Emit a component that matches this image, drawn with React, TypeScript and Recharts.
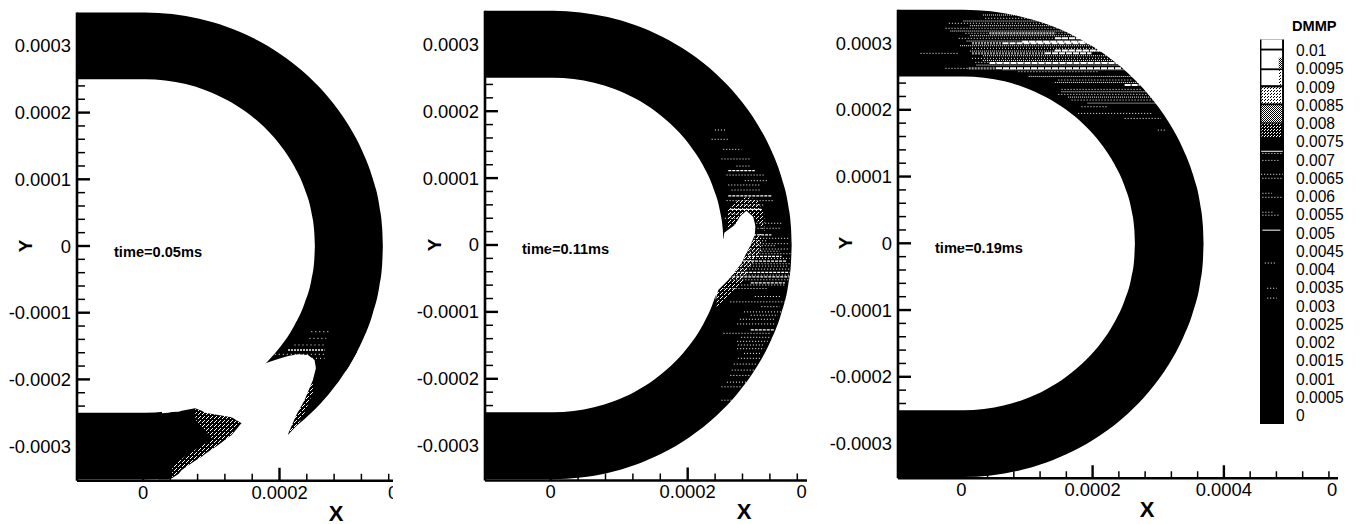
import { Area, ComposedChart, Line, XAxis, YAxis } from 'recharts';

const FONT = '"Liberation Sans", Arial, sans-serif';

// all x / y values are in units of 1e-4, the tick labels carry the real numbers
const yMajorTicks = [-3, -2, -1, 0, 1, 2, 3];
const yMajorLabels = ['-0.0003', '-0.0002', '-0.0001', '0', '0.0001', '0.0002', '0.0003'];
const yMinorTicks = [-3.4, -3.2, -2.8, -2.6, -2.4, -2.2, -1.8, -1.6, -1.4, -1.2, -0.8, -0.6, -0.4, -0.2, 0.2, 0.4, 0.6, 0.8, 1.2, 1.4, 1.6, 1.8, 2.2, 2.4];
const xMajorTicks = [0, 2, 4, 6];
const xMajorLabels = ['0', '0.0002', '0.0004', '0.0006'];
const xMinorTicks = [0.4, 0.8, 1.2, 1.6, 2.4, 2.8, 3.2, 3.6, 4.4, 4.8, 5.2, 5.6];

// droplet edge, upper half (the lower half mirrors it)
const outerX = [-1, 0, 0.4, 0.8, 1.2, 1.6, 2.0, 2.4, 2.7, 3.0, 3.2, 3.35, 3.45, 3.49, 3.5];
const outerY = [3.5, 3.5, 3.477, 3.407, 3.288, 3.113, 2.872, 2.548, 2.227, 1.803, 1.418, 1.014, 0.59, 0.265, 0];
const innerX = [-1, 0, 0.3, 0.6, 0.9, 1.2, 1.5, 1.8, 2.0, 2.2, 2.35, 2.45, 2.49, 2.5];
const innerY = [2.5, 2.5, 2.482, 2.427, 2.332, 2.193, 2.0, 1.735, 1.5, 1.187, 0.853, 0.497, 0.223, 0];
const outerX3 = [-1, 0, 0.42, 0.84, 1.26, 1.68, 2.1, 2.52, 2.835, 3.15, 3.36, 3.518, 3.623, 3.665, 3.675];
const innerX3 = [-1, 0, 0.315, 0.63, 0.945, 1.26, 1.575, 1.89, 2.1, 2.31, 2.468, 2.573, 2.615, 2.625];

// time=0.05ms: gap, plume and tail
const gapX = [0.25, 1.4, 1.836, 1.959, 2.105, 2.252, 2.398, 2.495, 2.52, 3.7];
const gapHi = [-2.4, -1.9, -1.734, -1.694, -1.649, -1.624, -1.634, -1.709, -1.859, -1.9];
const gapLo = [-3.5, -3.5, -3.5, -3.5, -3.5, -3.5, -3.5, -3.5, -3.5, -3.5];
const plumeX = [0.2, 0.347, 0.396, 0.493, 0.542, 0.737, 0.835, 0.884, 1.079, 1.275, 1.421];
const plumeHi = [-2.51, -2.5, -2.49, -2.484, -2.47, -2.434, -2.47, -2.499, -2.534, -2.568, -2.659];
const plumeLo = [-3.5, -3.5, -3.483, -3.42, -3.358, -3.22, -3.159, -3.12, -2.984, -2.834, -2.659];
const tailX = [2.105, 2.227, 2.349, 2.471, 2.52, 2.59, 2.7, 2.85, 3.0, 3.12];
const tailHi = [-2.82, -2.534, -2.309, -2.009, -1.81, -1.7, -1.6, -1.6, -1.6, -1.586];
const tailLo = [-2.83, -2.7, -2.595, -2.479, -2.429, -2.354, -2.227, -2.032, -1.803, -1.586];
const plumeSpeckX = [0.74, 1.0, 1.25, 1.42];
const plumeSpeckHi = [-2.44, -2.52, -2.56, -2.66];
const plumeSpeckLo = [-2.6, -2.9, -2.82, -2.66];
const plumeEdgeX = [0.4, 0.6, 0.85, 1.1, 1.3];
const plumeEdgeHi = [-3.3, -3.15, -2.98, -2.85, -2.72];
const plumeEdgeLo = [-3.48, -3.33, -3.15, -2.97, -2.82];
const tailSpeckX = [2.105, 2.227, 2.349, 2.471];
const tailSpeckHi = [-2.82, -2.534, -2.309, -2.009];
const tailSpeckLo = [-2.83, -2.72, -2.5, -2.2];
const t1StreakY = [-1.285, -1.385, -1.484, -1.624, -1.684];
const t1StreakX0 = [2.447, 2.42, 2.2, 1.91, 2.398];
const t1StreakX1 = [2.715, 2.666, 2.642, 2.642, 2.642];
const t1BrightY = [-1.559];
const t1BrightX0 = [2.105];
const t1BrightX1 = [2.642];

// time=0.11ms: bite in the inner edge
const biteX = [2.384, 2.423, 2.5, 2.511, 2.569, 2.666, 2.739, 2.764, 2.836, 2.885, 2.934, 2.958, 2.968];
const biteHi = [0, 0, 0.1, 0.184, 0.227, 0.299, 0.423, 0.45, 0.513, 0.468, 0.423, 0.33, 0.274];
const biteLo = [-0.822, -0.673, -0.594, -0.583, -0.523, -0.4, -0.306, -0.274, -0.12, -0.025, 0.09, 0.149, 0.274];
const biteSpeckX = [2.4, 2.55, 2.75, 2.9, 3.05];
const biteSpeckHi = [-0.7, -0.52, -0.26, 0.02, 0.2];
const biteSpeckLo = [-0.95, -0.8, -0.6, -0.3, -0.1];
const biteTopX = [2.55, 2.7, 2.85, 3.0, 3.1];
const biteTopHi = [0.5, 0.66, 0.72, 0.66, 0.45];
const biteTopLo = [0.24, 0.33, 0.52, 0.35, 0.2];
const t2StreakY = [1.719, 1.58, 1.43, 1.286, 1.18, 1.046, 0.962, 0.897, 0.822, 0.663, 0.598, 0.464, 0.4, 0.325, 0.25, 0.1, 0.062, 0.02, -0.01, -0.06, -0.093, -0.13, -0.2, -0.28, -0.316, -0.36, -0.45, -0.52, -0.598, -0.65, -0.77, -0.85, -0.922, -1.0, -1.05, -1.11, -1.18, -1.32, -1.38, -1.44, -1.495, -1.55, -1.62, -1.694, -1.78, -1.87, -1.95, -2.05, -2.12, -2.32];
const t2StreakX0 = [2.374, 2.326, 2.496, 2.47, 2.69, 2.545, 2.812, 2.57, 2.618, 2.545, 2.715, 2.57, 2.52, 2.98, 3.0, 2.95, 2.934, 2.9, 2.885, 2.9, 2.836, 2.85, 2.8, 2.75, 2.715, 2.7, 2.65, 2.6, 2.76, 2.5, 2.96, 2.6, 3.055, 2.8, 2.9, 2.74, 2.7, 2.5, 2.76, 2.7, 2.71, 2.7, 2.8, 2.71, 2.65, 2.62, 2.6, 2.55, 2.47, 2.47];
const t2StreakX1 = [2.545, 2.569, 2.764, 2.885, 2.885, 3.103, 3.152, 3.055, 3.055, 3.25, 3.103, 2.764, 2.715, 3.35, 3.35, 3.45, 3.13, 3.45, 3.275, 3.45, 3.325, 3.5, 3.47, 3.47, 3.45, 3.47, 3.47, 3.47, 3.4, 3.15, 3.35, 3.4, 3.323, 3.35, 3.3, 3.25, 3.25, 3.2, 3.2, 3.15, 3.1, 3.1, 3.05, 3.06, 3.0, 2.96, 2.9, 2.85, 2.76, 2.62];
const t2BrightY = [1.111, 0.733, 0.533, 0.15, -0.17, -0.24, -0.41, -0.475, -0.565, -1.27];
const t2BrightX0 = [2.57, 2.57, 2.6, 2.934, 2.86, 2.787, 2.642, 2.57, 2.9, 2.9];
const t2BrightX1 = [2.958, 3.202, 3.055, 3.202, 3.35, 3.42, 3.47, 3.47, 3.4, 3.25];

// time=0.19ms: streaks in the upper part of the shell
const t3StreakY = [3.371, 3.296, 3.221, 3.146, 3.071, 2.921, 2.771, 2.711, 2.571, 2.446, 2.306, 2.231, 2.146, 2.046, 1.946, 1.871, 1.696, 2.846, 2.621];
const t3StreakX0 = [0.335, -0.222, -0.273, 0.032, -0.07, 0.132, 0.132, 0.183, 0.843, 1.453, 1.503, 1.453, 1.656, 1.808, 1.757, 2.468, 2.975, -0.655, -0.273];
const t3StreakX1 = [1.148, 1.453, 1.656, 1.859, 2.011, 2.214, 2.366, 2.468, 2.062, 2.57, 2.722, 2.874, 2.975, 2.214, 2.874, 3.026, 3.1, -0.07, 0.082];
const t3DenseY = [3.42, 3.33, 3.26, 3.18, 3.11, 3.03, 2.96, 2.88, 2.81, 2.74, 2.67, 2.6, 2.5, 2.41, 2.27, 2.19, 2.1];
const t3DenseX0 = [0.3, 0.0, 0.1, -0.2, 0.1, 0.05, -0.05, 0.1, 0.3, 0.3, 0.2, 0.6, 1.0, 1.4, 1.5, 1.6, 1.9];
const t3DenseX1 = [1.0, 1.3, 1.55, 1.75, 1.95, 2.1, 2.2, 2.25, 2.35, 2.45, 2.5, 2.6, 2.6, 2.7, 2.8, 2.9, 3.0];
const t3BrightY = [3.071, 3.02, 2.996, 2.89, 2.846, 2.7, 2.621, 2.371];
const t3BrightX0 = [1.402, 0.9, 0.6, 1.4, 1.25, 0.4, 0.5, 2.468];
const t3BrightX1 = [1.808, 2.05, 2.062, 2.1, 1.96, 2.4, 2.417, 2.697];
const t3GreyY = [2.846, 2.996, 2.621, 3.146];
const t3GreyX0 = [0.132, 0.132, 0.082, 0.4];
const t3GreyX1 = [1.25, 0.6, 0.5, 1.4];

// colour legend
const legendTicks = [0, 0.0005, 0.001, 0.0015, 0.002, 0.0025, 0.003, 0.0035, 0.004, 0.0045, 0.005, 0.0055, 0.006, 0.0065, 0.007, 0.0075, 0.008, 0.0085, 0.009, 0.0095, 0.01];
const legendCellTop = [0.0103, 0.01, 0.00946, 0.00899, 0.0085, 0.008];
const legendCellBottom = [0.01005, 0.00951, 0.00905, 0.00855, 0.00803, 0.00762];
const legendCellFill = ['#fff', '#fff', '#fff', 'url(#legendLight)', 'url(#legendMid)', 'url(#legendDark)'];
const legendStreakY = [0.00718, 0.00699, 0.00661, 0.0065, 0.00609, 0.00598, 0.00557, 0.00549, 0.00418, 0.00349, 0.00322];
const legendStreakX0 = [0.1, 0.1, 0.05, 0.1, 0.1, 0.1, 0.1, 0.1, 0.2, 0.3, 0.3];
const legendStreakX1 = [0.9, 0.8, 0.95, 0.9, 0.5, 0.9, 0.6, 0.8, 0.7, 0.7, 0.7];
const legendBrightY = [0.00508, 0.00724];
const legendBrightX0 = [0.1, 0.05];
const legendBrightX1 = [0.85, 0.95];

const bandRows = (x: number[], lo: number[], hi: number[]) => x.map((v, i) => ({ x: v, band: [lo[i], hi[i]] }));
const discRows = (x: number[], y: number[]) => x.map((v, i) => ({ x: v, band: [-y[i], y[i]] }));
const streakRows = (y: number[], x0: number[], x1: number[]) =>
    y.flatMap((v, i) => [{ x: x0[i], y: v }, { x: x1[i], y: v }, { x: x1[i], y: null }]);

const band = (data: any[], fill: string, curve: any = 'linear') => (
    <Area
        data={data}
        dataKey="band"
        type={curve}
        stroke="none"
        fill={fill}
        fillOpacity={1}
        dot={false}
        activeDot={false}
        isAnimationActive={false}
    />
);

const streak = (data: any[], color: string, width: number, dash?: string) => (
    <Line
        data={data}
        dataKey="y"
        type="linear"
        stroke={color}
        strokeWidth={width}
        strokeDasharray={dash}
        dot={false}
        activeDot={false}
        connectNulls={false}
        isAnimationActive={false}
    />
);

function YTick({ x, y, payload }: any) {
    const idx = yMajorTicks.indexOf(payload.value);
    const major = idx >= 0;
    return (
        <g>
            <line x1={x} x2={x + (major ? 13 : 8)} y1={y} y2={y} stroke="#000" strokeWidth={major ? 2.4 : 1.5} />
            {major && (
                <text x={x - 6} y={y} textAnchor="end" dominantBaseline="central" fontSize={18.4} fontFamily={FONT} fill="#000">
                    {yMajorLabels[idx]}
                </text>
            )}
        </g>
    );
}

function XTick({ x, y, payload }: any) {
    const idx = xMajorTicks.indexOf(payload.value);
    const major = idx >= 0;
    return (
        <g>
            <line x1={x} x2={x} y1={y} y2={y - (major ? 13 : 7)} stroke="#000" strokeWidth={major ? 2.4 : 1.5} />
            {major && (
                <text x={x} y={y + 18} textAnchor="middle" fontSize={18.4} fontFamily={FONT} fill="#000">
                    {xMajorLabels[idx]}
                </text>
            )}
        </g>
    );
}

function Panel({ left, clipRight, axisX, zeroX, xScale, zeroY, yScale, maxTick, time, timeX, timeY, titleX, titleY, yTitleX, yTitleY, outer, inner, children }: any) {
    const xMin = (axisX - zeroX) / xScale;
    const xMax = 7;
    const plotWidth = (xMax - xMin) * xScale;
    const top = zeroY - 3.5 * yScale;
    const plotHeight = 7.02 * yScale;
    const yAxisWidth = axisX - left;
    const bottom = 524 - top - plotHeight;
    const layer = { position: 'absolute', left: 0, top: 0 } as const;
    return (
        <div style={{ position: 'absolute', left, top: 0, width: clipRight - left, height: 524, overflow: 'hidden' }}>
            {/* marks underneath, axes and texts in a second chart on top so the white patches don't hide the ticks */}
            <div style={layer}>
                <ComposedChart width={yAxisWidth + plotWidth} height={524} margin={{ top, right: 0, bottom, left: yAxisWidth }}>
                    <defs>
                        <pattern id={`speck${left}`} width="4" height="4" patternUnits="userSpaceOnUse">
                            <rect x="0" y="0" width="1" height="1" fill="#fff" />
                            <rect x="2" y="2" width="1" height="1" fill="#fff" />
                            <rect x="3" y="1" width="1" height="1" fill="#fff" />
                        </pattern>
                    </defs>
                    {band(discRows(outer[0], outer[1]), '#000', 'monotone')}
                    {band(discRows(inner[0], inner[1]), '#fff', 'monotone')}
                    {children(`url(#speck${left})`)}
                    <YAxis type="number" hide domain={[-3.52, 3.5]} />
                    <XAxis type="number" hide dataKey="x" domain={[xMin, xMax]} />
                </ComposedChart>
            </div>
            <div style={layer}>
                <ComposedChart width={yAxisWidth + plotWidth} height={524} margin={{ top, right: 0, bottom: 0, left: 0 }}>
                    <Line data={[{ x: 0, y: 0 }]} dataKey="y" stroke="none" dot={false} activeDot={false} isAnimationActive={false} />
                    <YAxis
                        type="number"
                        width={yAxisWidth}
                        domain={[-3.52, 3.5]}
                        ticks={[...yMajorTicks, ...yMinorTicks].sort((a, b) => a - b)}
                        interval={0}
                        tickSize={0}
                        tickMargin={0}
                        tickLine={false}
                        axisLine={{ stroke: '#000', strokeWidth: 2.6 }}
                        tick={<YTick />}
                    />
                    <XAxis
                        type="number"
                        dataKey="x"
                        domain={[xMin, xMax]}
                        ticks={[...xMajorTicks, ...xMinorTicks].filter((t) => t <= maxTick).sort((a, b) => a - b)}
                        interval={0}
                        height={bottom}
                        tickSize={0}
                        tickMargin={0}
                        tickLine={false}
                        axisLine={{ stroke: '#000', strokeWidth: 2.6 }}
                        tick={<XTick />}
                    />
                    <text x={timeX - left} y={timeY} dominantBaseline="central" fontSize={14.6} fontWeight="bold" fontFamily={FONT} fill="#000">
                        {time}
                    </text>
                    <text x={titleX - left} y={titleY} textAnchor="middle" dominantBaseline="central" fontSize={22} fontWeight="bold" fontFamily={FONT} fill="#000">
                        X
                    </text>
                    <text
                        x={yTitleX - left}
                        y={yTitleY}
                        textAnchor="middle"
                        dominantBaseline="central"
                        fontSize={19}
                        fontWeight="bold"
                        fontFamily={FONT}
                        fill="#000"
                        transform={`rotate(-90 ${yTitleX - left} ${yTitleY})`}
                    >
                        Y
                    </text>
                </ComposedChart>
            </div>
        </div>
    );
}

function ColourLegend() {
    return (
        <div style={{ position: 'absolute', left: 1250, top: 0, width: 119, height: 524 }}>
            <ComposedChart width={119} height={430} margin={{ top: 39.5, right: 0, bottom: 6, left: 10 }}>
                <defs>
                    <pattern id="legendLight" width="3" height="3" patternUnits="userSpaceOnUse">
                        <rect width="3" height="3" fill="#fff" />
                        <rect x="0" y="0" width="1" height="1" fill="#000" />
                        <rect x="2" y="1" width="1" height="1" fill="#000" />
                    </pattern>
                    <pattern id="legendMid" width="2" height="2" patternUnits="userSpaceOnUse">
                        <rect width="2" height="2" fill="#fff" />
                        <rect x="0" y="0" width="1" height="1" fill="#000" />
                        <rect x="1" y="1" width="1" height="1" fill="#000" />
                    </pattern>
                    <pattern id="legendDark" width="3" height="3" patternUnits="userSpaceOnUse">
                        <rect width="3" height="3" fill="#000" />
                        <rect x="0" y="0" width="1" height="1" fill="#fff" />
                        <rect x="2" y="1" width="1" height="1" fill="#fff" />
                    </pattern>
                </defs>
                {band(bandRows([0, 1], [-0.000227, -0.000227], [0.0103, 0.0103]), '#000')}
                {legendCellTop.map((t, i) => (
                    <Area
                        key={t}
                        data={bandRows([0.06, 0.92], [legendCellBottom[i], legendCellBottom[i]], [t, t])}
                        dataKey="band"
                        type="linear"
                        stroke="none"
                        fill={legendCellFill[i]}
                        fillOpacity={1}
                        dot={false}
                        activeDot={false}
                        isAnimationActive={false}
                    />
                ))}
                {band(bandRows([0.78, 0.92], [0.00951, 0.00951], [0.0098, 0.0098]), 'url(#legendMid)')}
                {band(bandRows([0.78, 0.92], [0.00905, 0.00905], [0.00946, 0.00946]), 'url(#legendLight)')}
                {streak(streakRows(legendStreakY, legendStreakX0, legendStreakX1), '#fff', 1, '1 2')}
                {streak(streakRows(legendBrightY, legendBrightX0, legendBrightX1), '#fff', 1)}
                <XAxis type="number" dataKey="x" domain={[0, 1]} hide height={0} />
                <YAxis
                    type="number"
                    orientation="right"
                    domain={[-0.000227, 0.0103]}
                    ticks={legendTicks}
                    interval={0}
                    width={85}
                    tickSize={0}
                    tickMargin={12}
                    tickLine={false}
                    axisLine={false}
                    tick={{ fill: '#000', fontSize: 15.6, fontFamily: FONT }}
                />
                <text x={42} y={26} dominantBaseline="central" fontSize={14.6} fontWeight="bold" fontFamily={FONT} fill="#000">
                    DMMP
                </text>
            </ComposedChart>
        </div>
    );
}

export default function App() {
    return (
        <div style={{ position: 'absolute', left: 0, top: 0, width: 1369, height: 524, overflow: 'hidden', background: '#fff' }}>
            <Panel
                left={0} clipRight={393} axisX={77} zeroX={143} xScale={68.25} zeroY={246} yScale={66.7} maxTick={4}
                time="time=0.05ms" timeX={114} timeY={252} titleX={336} titleY={513} yTitleX={25} yTitleY={246}
                outer={[outerX, outerY]} inner={[innerX, innerY]}
            >
                {(speck: string) => (
                    <>
                        {band(bandRows(gapX, gapLo, gapHi), '#fff')}
                        {band(bandRows(plumeX, plumeLo, plumeHi), '#000')}
                        {band(bandRows(tailX, tailLo, tailHi), '#000')}
                        {band(bandRows(plumeSpeckX, plumeSpeckLo, plumeSpeckHi), speck)}
                        {band(bandRows(plumeEdgeX, plumeEdgeLo, plumeEdgeHi), speck)}
                        {band(bandRows(tailSpeckX, tailSpeckLo, tailSpeckHi), speck)}
                        {streak(streakRows(t1StreakY, t1StreakX0, t1StreakX1), '#fff', 1, '1 3')}
                        {streak(streakRows(t1BrightY, t1BrightX0, t1BrightX1), '#fff', 1.4, '2 1')}
                    </>
                )}
            </Panel>
            <Panel
                left={410} clipRight={807} axisX={485} zeroX={550.7} xScale={68.5} zeroY={245} yScale={66.9} maxTick={4}
                time="time=0.11ms" timeX={522} timeY={249} titleX={744} titleY={512} yTitleX={435} yTitleY={245}
                outer={[outerX, outerY]} inner={[innerX, innerY]}
            >
                {(speck: string) => (
                    <>
                        {band(bandRows(biteX, biteLo, biteHi), '#fff')}
                        {band(bandRows(biteSpeckX, biteSpeckLo, biteSpeckHi), speck)}
                        {band(bandRows(biteTopX, biteTopLo, biteTopHi), speck)}
                        {streak(streakRows(t2StreakY, t2StreakX0, t2StreakX1), '#fff', 1, '1 2')}
                        {streak(streakRows(t2BrightY, t2BrightX0, t2BrightX1), '#fff', 1.3, '3 1')}
                    </>
                )}
            </Panel>
            <Panel
                left={815} clipRight={1338} axisX={898} zeroX={961.3} xScale={65.65} zeroY={243.3} yScale={66.75} maxTick={6}
                time="time=0.19ms" timeX={935} timeY={248} titleX={1147} titleY={510} yTitleX={846} yTitleY={243}
                outer={[outerX3, outerY]} inner={[innerX3, innerY]}
            >
                {() => (
                    <>
                        {streak(streakRows(t3GreyY, t3GreyX0, t3GreyX1), '#999', 2.4, '2 1')}
                        {streak(streakRows(t3StreakY, t3StreakX0, t3StreakX1), '#fff', 1, '1 2')}
                        {streak(streakRows(t3DenseY, t3DenseX0, t3DenseX1), '#fff', 1, '1 1')}
                        {streak(streakRows(t3BrightY, t3BrightX0, t3BrightX1), '#fff', 2, '6 1')}
                    </>
                )}
            </Panel>
            <ColourLegend />
        </div>
    );
}
